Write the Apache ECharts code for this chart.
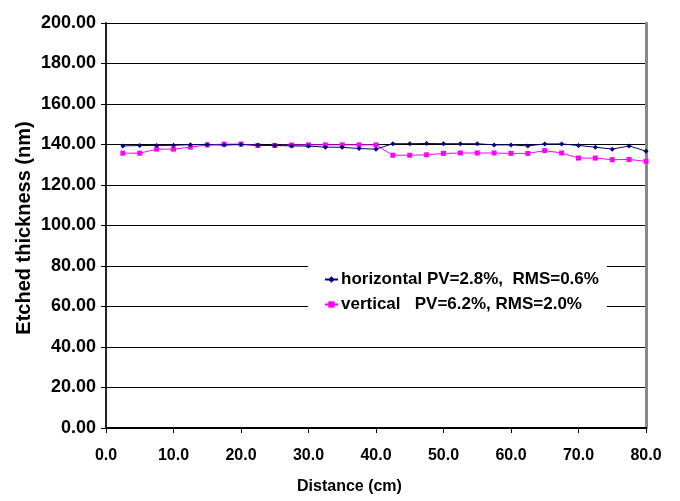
<!DOCTYPE html>
<html>
<head>
<meta charset="utf-8">
<script src="https://cdn.jsdelivr.net/npm/echarts@6/dist/echarts.min.js"></script>
<style>
  html, body { margin: 0; padding: 0; background: #fff; }
  #chart { width: 680px; height: 501px; }
</style>
</head>
<body>
<div id="chart"></div>
<script>
// distance positions (cm)
const distance = [2.5, 5, 7.5, 10, 12.5, 15, 17.5, 20, 22.5, 25, 27.5, 30, 32.5, 35, 37.5, 40,
    42.5, 45, 47.5, 50, 52.5, 55, 57.5, 60, 62.5, 65, 67.5, 70, 72.5, 75, 77.5, 80];

const horizontal = [139.3, 139.5, 139.5, 139.6, 139.9, 139.9, 139.7, 140.0, 139.6, 139.5, 139.3, 139.2,
    138.7, 138.6, 138.0, 137.7, 140.4, 140.4, 140.5, 140.4, 140.4, 140.4, 139.8, 139.8,
    139.3, 140.3, 140.3, 139.5, 138.7, 137.7, 139.3, 136.7];

const vertical = [135.7, 135.7, 137.7, 137.7, 138.7, 139.8, 140.2, 140.2, 139.5, 139.5, 139.7, 139.8,
    139.8, 139.8, 139.8, 139.8, 134.7, 134.7, 134.9, 135.6, 135.8, 135.8, 135.8, 135.6,
    135.6, 137.0, 135.8, 133.3, 133.3, 132.5, 132.6, 131.7];

const seriesNames = ['horizontal PV=2.8%,  RMS=0.6%', 'vertical   PV=6.2%, RMS=2.0%'];

const font = '"Liberation Sans", Arial, sans-serif';

function pairs(ys) {
    return distance.map((x, i) => [x, ys[i]]);
}

const chart = echarts.init(document.getElementById('chart'));

chart.setOption({
    animation: false,
    backgroundColor: '#fff',
    textStyle: { fontFamily: font },
    grid: { left: 106, right: 34, top: 23, bottom: 73 },
    legend: {
        orient: 'vertical',
        left: 308,
        top: 265,
        padding: [6, 8, 6, 16],
        itemGap: 8,
        itemWidth: 13,
        itemHeight: 8,
        backgroundColor: '#fff',
        data: seriesNames,
        textStyle: { fontFamily: font, fontWeight: 'bold', fontSize: 17, color: '#000', padding: [0, 0, 0, -2] }
    },
    xAxis: {
        type: 'value',
        min: 0,
        max: 80,
        interval: 10,
        axisLine: { lineStyle: { color: '#000', width: 2 } },
        axisTick: { show: true, length: 5, lineStyle: { color: '#000' } },
        axisLabel: {
            margin: 20,
            fontFamily: font,
            fontWeight: 'bold',
            fontSize: 16,
            color: '#000',
            formatter: v => v.toFixed(1)
        },
        splitLine: { show: false }
    },
    yAxis: [{
        type: 'value',
        min: 0,
        max: 200,
        interval: 20,
        axisLine: { show: true, lineStyle: { color: '#222', width: 2 } },
        axisTick: { show: true, length: 5, lineStyle: { color: '#000' } },
        axisLabel: {
            margin: 10,
            fontFamily: font,
            fontWeight: 'bold',
            fontSize: 18,
            color: '#000',
            formatter: v => v.toFixed(2)
        },
        splitLine: { show: true, lineStyle: { color: '#000', width: 1 } }
    }, {
        // right border of the plot area
        type: 'value',
        position: 'right',
        min: 0,
        max: 200,
        interval: 20,
        axisLine: { show: true, lineStyle: { color: '#888', width: 3 } },
        axisTick: { show: false },
        axisLabel: { show: false },
        splitLine: { show: false }
    }],
    series: [{
        name: seriesNames[0],
        type: 'line',
        data: pairs(horizontal),
        color: '#000080',
        symbol: 'diamond',
        symbolSize: 5,
        lineStyle: { width: 1 },
        z: 3
    }, {
        name: seriesNames[1],
        type: 'line',
        data: pairs(vertical),
        color: '#ff00ff',
        symbol: 'rect',
        symbolSize: 5,
        lineStyle: { width: 1 },
        z: 2
    }],
    graphic: [{
        type: 'text',
        left: 297,
        top: 479,
        style: {
            text: 'Distance (cm)',
            font: 'bold 16px ' + font,
            fill: '#000'
        }
    }, {
        type: 'text',
        x: 24,
        y: 228,
        rotation: Math.PI / 2,
        style: {
            text: 'Etched thickness (nm)',
            font: 'bold 20px ' + font,
            fill: '#000',
            align: 'center',
            verticalAlign: 'middle'
        }
    }]
});
</script>
</body>
</html>
